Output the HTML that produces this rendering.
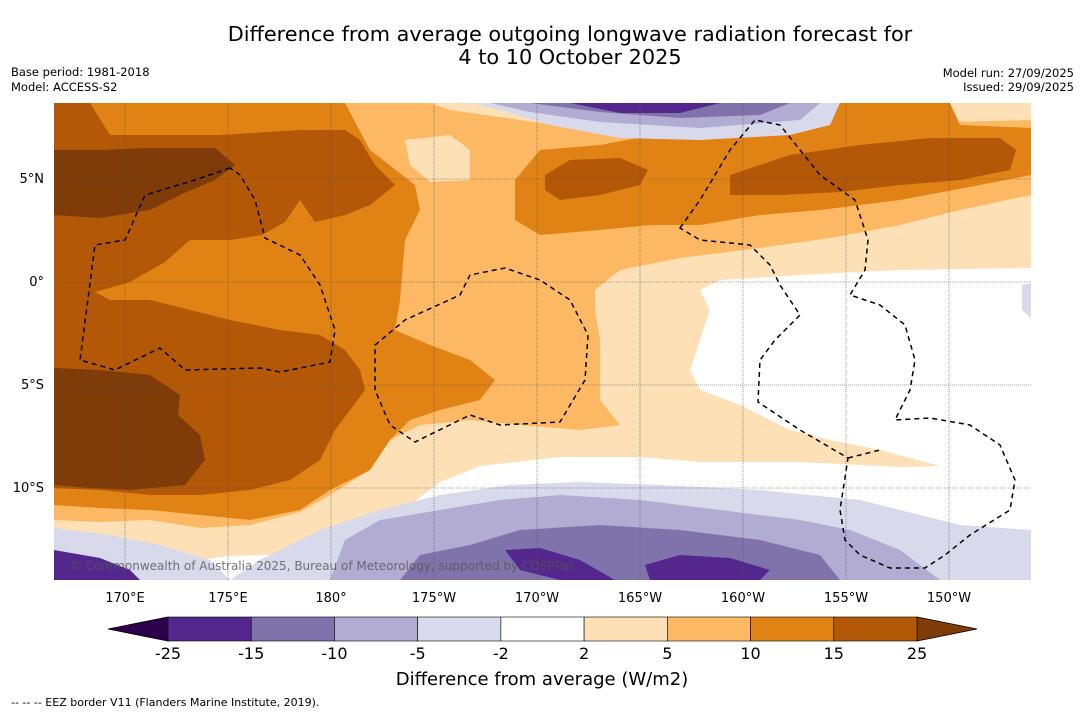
<!DOCTYPE html>
<html><head><meta charset="utf-8">
<style>
body{margin:0;background:#fff;width:1085px;height:713px;overflow:hidden;font-family:"Liberation Sans","DejaVu Sans",sans-serif;}
svg{display:block}
</style></head>
<body>
<svg id="chart" width="1085" height="713" font-family="DejaVu Sans, Liberation Sans, sans-serif">
<text x="570" y="41" font-size="20.8" text-anchor="middle">Difference from average outgoing longwave radiation forecast for</text>
<text x="570" y="64" font-size="20.8" text-anchor="middle">4 to 10 October 2025</text>
<text x="11" y="76" font-size="11.5">Base period: 1981-2018</text>
<text x="11" y="91" font-size="11.5">Model: ACCESS-S2</text>
<text x="1074" y="77" font-size="11.5" text-anchor="end">Model run: 27/09/2025</text>
<text x="1074" y="91" font-size="11.5" text-anchor="end">Issued: 29/09/2025</text>
<defs><clipPath id="mc"><rect x="54" y="103" width="977" height="477"/></clipPath></defs>
<g clip-path="url(#mc)">
<rect x="54" y="103" width="977" height="477" fill="#fdb863"/>
<polygon fill="#fee0b6" points="430,103 1031,103 1031,120 950,122 840,128 760,140 690,145 520,120 450,110"/>
<polygon fill="#fee0b6" points="595,290 620,270 680,258 760,248 830,238 900,225 960,210 1031,195 1031,580 54,580 54,520 100,522 150,520 200,528 250,525 300,512 330,495 370,470 390,440 420,425 470,420 520,425 580,430 620,425 600,400 600,340 595,310"/>
<polygon fill="#fff" points="700,290 720,280 800,275 900,270 1031,268 1031,580 230,580 200,560 230,556 270,555 320,535 360,520 410,505 440,482 480,466 560,457 640,457 700,462 800,462 900,467 940,466 880,450 830,440 790,430 740,405 700,390 690,370 700,340 710,310"/>
<polygon fill="#e08214" points="54,103 345,103 370,150 415,185 420,210 405,240 400,300 395,330 430,345 470,360 495,380 480,400 440,410 410,420 390,440 370,470 330,490 300,510 250,520 200,515 150,510 100,508 54,505"/>
<polygon fill="#e08214" points="515,180 540,150 600,145 680,130 760,115 840,103 950,103 960,125 1031,128 1031,175 980,185 900,200 820,210 760,215 700,225 650,225 600,230 540,235 515,220"/>
<polygon fill="#fee0b6" points="405,140 450,135 470,150 470,180 430,182 410,165"/>
<polygon fill="#b35806" points="54,103 90,103 110,135 220,135 300,130 345,130 360,140 375,165 395,185 370,205 345,215 315,222 300,200 285,222 262,235 230,240 190,240 165,262 130,282 95,292 110,300 150,300 190,310 230,320 280,330 320,335 345,350 360,370 365,390 350,410 335,430 320,460 290,480 250,490 200,495 150,495 100,490 54,488"/>
<polygon fill="#b35806" points="545,175 570,160 620,158 648,170 640,185 600,195 560,200 545,190"/>
<polygon fill="#b35806" points="730,175 790,155 860,145 930,138 1000,138 1016,150 1010,170 960,180 900,185 840,192 780,195 730,195"/>
<polygon fill="#7f3b08" points="54,150 100,150 150,148 215,148 235,165 215,180 180,195 150,210 100,218 54,215"/>
<polygon fill="#7f3b08" points="54,368 100,370 150,375 180,395 178,415 200,435 205,460 185,485 130,490 90,488 54,485"/>
<polygon fill="#d8daeb" points="230,580 260,560 320,530 380,510 440,495 510,485 580,482 660,485 760,490 860,500 960,525 1031,530 1031,580"/>
<polygon fill="#d8daeb" points="54,528 110,535 160,545 210,560 230,580 54,580"/>
<polygon fill="#54278f" points="54,550 100,558 130,570 140,580 54,580"/>
<polygon fill="#b2abd2" points="330,580 345,540 380,520 440,510 500,500 560,495 640,500 720,510 800,520 850,530 900,550 940,580"/>
<polygon fill="#8073ac" points="400,580 420,555 470,545 520,530 600,525 680,530 760,540 820,555 840,580"/>
<polygon fill="#54278f" points="505,550 540,548 580,560 615,580 560,580 520,570"/>
<polygon fill="#54278f" points="645,565 680,555 730,558 770,570 760,580 650,580"/>
<polygon fill="#d8daeb" points="470,103 840,103 830,125 790,135 700,140 620,138 550,125 500,110"/>
<polygon fill="#b2abd2" points="490,103 820,103 800,120 700,128 600,122 530,112"/>
<polygon fill="#8073ac" points="530,103 790,103 760,115 680,118 600,112"/>
<polygon fill="#54278f" points="570,103 720,103 680,113 620,113"/>
<polygon fill="#d8daeb" points="1022,285 1031,283 1031,318 1022,310"/>
<g id="grid" stroke="#555" stroke-width="0.6" stroke-dasharray="1,1"></g>
<g fill="none" stroke="#000" stroke-width="1.5" stroke-dasharray="5,4">
<path d="M230,168 L195,180 L145,195 L125,240 L95,245 L80,360 L115,370 L160,348 L185,370 L260,368 L280,372 L330,362 L335,330 L320,285 L300,255 L265,238 L255,200 L240,175 Z"/>
<path d="M375,345 L405,320 L460,295 L470,275 L505,268 L540,280 L570,300 L588,335 L585,380 L560,422 L500,425 L470,415 L415,442 L390,425 L375,390 Z"/>
<path d="M680,228 L700,200 L730,150 L755,120 L780,125 L820,175 L855,200 L868,240 L865,270 L850,295 L880,305 L905,325 L915,360 L910,390 L895,420 L930,418 L970,425 L1000,445 L1015,480 L1010,510 L970,535 L945,555 L925,568 L890,568 L860,555 L845,540 L840,510 L848,458 L800,430 L758,402 L760,360 L775,340 L800,315 L780,285 L770,265 L750,245 L700,240 Z"/>
<path d="M848,458 L880,450"/>
</g>
<text x="70" y="570" font-size="12" fill="#555" fill-opacity="0.8">© Commonwealth of Australia 2025, Bureau of Meteorology, supported by COSPPac</text>
</g>
<g id="axes" font-size="13"></g>
<g id="cbar"></g>
<text x="542" y="685" font-size="18" text-anchor="middle">Difference from average (W/m2)</text>
<text x="11" y="706" font-size="11">--  --  -- EEZ border V11 (Flanders Marine Institute, 2019).</text>
</svg>
<script>
const lonTicks=[170,175,180,-175,-170,-165,-160,-155,-150];
const lonLabels=["170°E","175°E","180°","175°W","170°W","165°W","160°W","155°W","150°W"];
const latTicks=[5,0,-5,-10];
const latLabels=["5°N","0°","5°S","10°S"];
const levels=[-25,-15,-10,-5,-2,2,5,10,15,25];
const levelColors=["#54278f","#8073ac","#b2abd2","#d8daeb","#ffffff","#fee0b6","#fdb863","#e08214","#b35806"];
const extendColors=["#2d004b","#7f3b08"];
const NS="http://www.w3.org/2000/svg";
function lonX(l){let e=l<0?l+360:l;return 125+(e-170)*20.6;}
function latY(l){return 282-l*20.6;}
function mk(t,a,p){const e=document.createElementNS(NS,t);for(const k in a)e.setAttribute(k,a[k]);p.appendChild(e);return e;}
const grid=document.getElementById('grid'),axes=document.getElementById('axes');
lonTicks.forEach((l,i)=>{const x=lonX(l);
 const g=mk('line',{x1:x,x2:x,y1:103,y2:580},grid);
 
 
 const t=mk('text',{x:x,y:602,'text-anchor':'middle'},axes);t.textContent=lonLabels[i];
 
 });
latTicks.forEach((l,i)=>{const y=latY(l);
 const g=mk('line',{x1:54,x2:1031,y1:y,y2:y},grid);
 
 
 const t=mk('text',{x:44,y:y+4,'text-anchor':'end'},axes);t.textContent=latLabels[i];
 
 });
const cb=document.getElementById('cbar');
const cx0=168,cx1=917,cy=617,ch=24,seg=(cx1-cx0)/levelColors.length;
function segX(i){return cx0+i*seg;}
const lt=mk('polygon',{points:`108,${cy+ch/2} ${cx0},${cy} ${cx0},${cy+ch}`,fill:extendColors[0],stroke:'#000','stroke-width':0.8},cb);


const rt=mk('polygon',{points:`977,${cy+ch/2} ${cx1},${cy} ${cx1},${cy+ch}`,fill:extendColors[1],stroke:'#000','stroke-width':0.8},cb);


levelColors.forEach((c,i)=>{const r=mk('rect',{x:segX(i),y:cy,width:seg,height:ch,fill:c,stroke:'#000','stroke-width':0.6},cb);
 
 });
levels.forEach((v,i)=>{const t=mk('text',{x:segX(i),y:659,'font-size':16,'text-anchor':'middle'},cb);t.textContent=v;
 
 });
</script>
</body></html>
